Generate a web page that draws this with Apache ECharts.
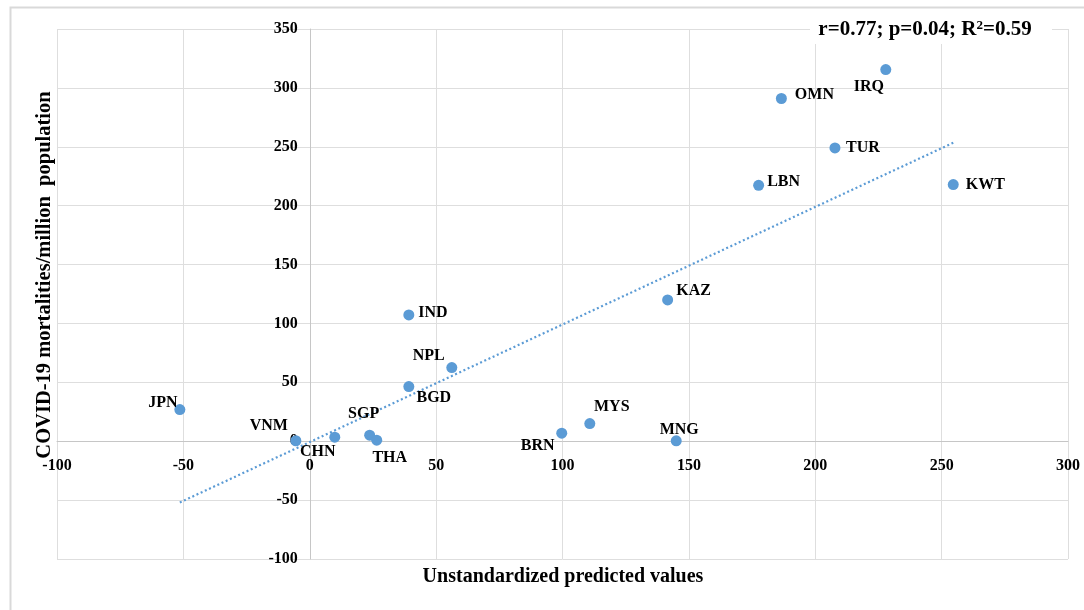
<!DOCTYPE html>
<html>
<head>
<meta charset="utf-8">
<script src="https://cdn.jsdelivr.net/npm/echarts@6/dist/echarts.min.js"></script>
<style>
html,body{margin:0;padding:0;background:#fff;}
#c{width:1084px;height:610px;}
</style>
</head>
<body>
<div id="c"></div>
<script>
// Data
const countries = ['JPN','VNM','CHN','SGP','THA','IND','NPL','BGD','BRN','MYS','MNG','KAZ','LBN','OMN','TUR','IRQ','KWT'];
const predicted = [-51.4,-5.5,9.9,23.7,26.5,39.2,56.2,39.2,99.7,110.8,145.0,141.6,177.6,186.6,207.8,227.9,254.6];
const mortality = [26.9,0.4,3.4,5.1,0.9,107.2,62.5,46.4,6.8,15.0,0.3,120.0,217.3,291.0,249.0,315.6,217.9];
// label offsets (layout, not data)
const labelOffsets = [[-17,-7],[-27,-15],[-17,15],[-6,-21],[13,18],[24,-2],[-23,-12],[25,11],[-24,13],[22,-17],[3,-11],[26,-9],[25,-3],[33,-4],[28,0],[-17,17],[32,0]];
// trend line endpoints
const trendX = [-51.4, 254.6];
const trendY = [-52.0, 253.4];
const xTicks = {min:-100, max:300, interval:50};
const yTicks = {min:-100, max:350, interval:50};

const FONT = '"Liberation Serif","Times New Roman",serif';
const BLUE = '#5B9BD5';
const GRID = {left:57,right:16,top:29,bottom:51};

const pts = countries.map((c,i)=>({name:c, value:[predicted[i], mortality[i]]}));

const chart = echarts.init(document.getElementById('c'));
function axisCommon(t){
  return {
    type:'value', min:t.min, max:t.max, interval:t.interval,
    axisLine:{show:true,onZero:false,lineStyle:{color:'#c6c6c6',width:1}},
    axisTick:{show:false},
    axisLabel:{show:true,color:'#000',fontFamily:FONT,fontWeight:'bold',fontSize:16,showMinLabel:true,showMaxLabel:true},
    splitLine:{show:true,lineStyle:{color:'#dedede',width:1}}
  };
}
const xAx = axisCommon(xTicks); xAx.axisLabel.margin = 17;
const yAx = axisCommon(yTicks); yAx.axisLabel.margin = 12;

chart.setOption({
  animation:false,
  backgroundColor:'#fff',
  grid:Object.assign({containLabel:false}, GRID),
  xAxis:xAx,
  yAxis:yAx,
  graphic:[
    {type:'rect',left:8,top:5,z:-10,shape:{width:1200,height:700},style:{fill:'none',stroke:'#d9d9d9',lineWidth:2},silent:true},
    {type:'text',x:563,y:577,style:{text:'Unstandardized predicted values',font:'bold 20px '+FONT,fill:'#000',textAlign:'center',textVerticalAlign:'middle'}},
    {type:'text',x:45,y:275,rotation:Math.PI/2,style:{text:'COVID-19 mortalities/million  population',font:'bold 20.5px '+FONT,fill:'#000',textAlign:'center',textVerticalAlign:'middle'}},
    {type:'rect',x:810,y:18,z:100,shape:{width:242,height:26},style:{fill:'#fff'}},
    {type:'text',x:925,y:30,z:101,style:{rich:{n:{font:'bold 21px '+FONT,fill:'#000'},s:{font:'bold 13px '+FONT,fill:'#000',verticalAlign:'top',padding:[0,0,9,0]}},text:'{n|r=0.77; p=0.04; R}{s|2}{n|=0.59}',textAlign:'center',textVerticalAlign:'middle'}}
  ],
  series:[
    {
      type:'line', data:trendX.map((x,i)=>[x,trendY[i]]),
      symbol:'none', silent:true,
      lineStyle:{color:BLUE,width:2.2,type:[2,2.6]},
      z:2
    },
    {
      type:'scatter', data:pts, symbolSize:11,
      itemStyle:{color:BLUE,opacity:1},
      label:{show:true,position:'inside',formatter:'{b}',color:'#000',textBorderWidth:0,fontFamily:FONT,fontWeight:'bold',fontSize:16},
      labelLayout:function(p){
        const o = labelOffsets[p.dataIndex];
        return {dx:o[0], dy:o[1], hideOverlap:false};
      },
      z:3
    }
  ]
});

// Place axes so they cross at the zero values (as in the reference)
const zero = chart.convertToPixel({gridIndex:0},[0,0]);
const bottomPx = 610 - GRID.bottom;
const leftPx = GRID.left;
chart.setOption({
  xAxis:{offset:-(bottomPx - zero[1])},
  yAxis:{offset:-(zero[0] - leftPx)}
});
</script>
</body>
</html>
